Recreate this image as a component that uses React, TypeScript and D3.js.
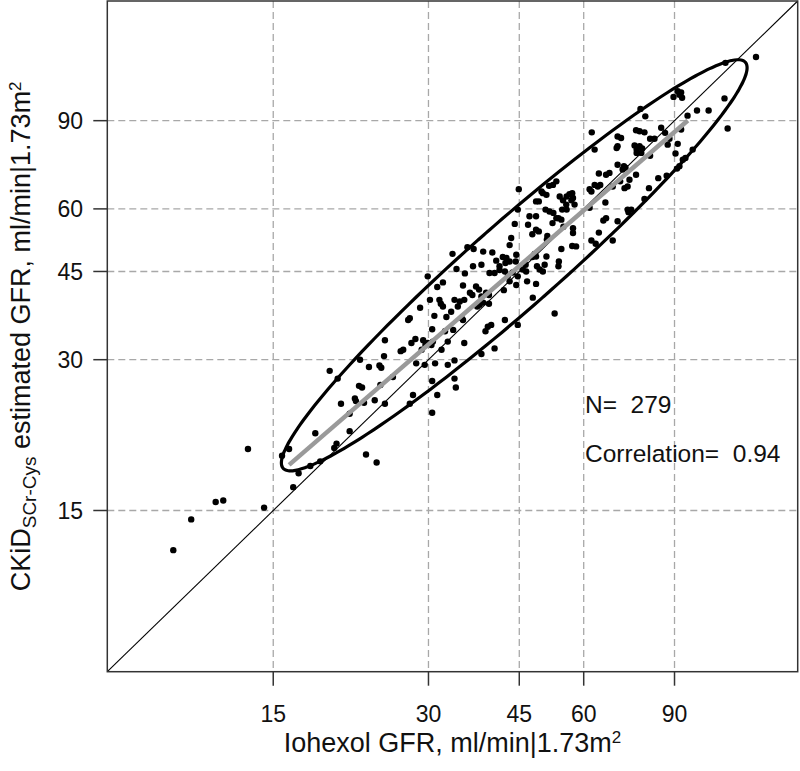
import React from "react";
import * as d3 from "d3";

// [Iohexol GFR, CKiD SCr-Cys estimated GFR] pairs, ml/min|1.73m2
const outlierPoints: [number, number][] = [
  [9.6, 12.5], [10.4, 14.4], [11.6, 15.6], [12.0, 15.7], [14.4, 15.2], [13.4, 19.9],
];

const lowerPoints: [number, number][] = [
  [16.1, 19.9], [15.6, 19.3], [17.7, 18.4], [16.8, 17.8], [16.4, 16.7], [18.5, 18.8],
  [18.1, 21.4], [19.9, 20.4], [19.7, 20.0], [21.1, 21.6], [21.1, 23.4], [20.3, 24.5],
  [19.3, 28.5], [20.0, 27.5], [21.6, 25.1], [21.7, 24.8], [22.5, 24.6], [23.6, 24.9],
  [24.7, 24.5], [22.0, 26.6], [22.3, 26.4], [24.2, 26.7], [25.6, 27.7], [22.1, 30.0],
  [23.0, 29.0], [24.1, 29.2], [24.3, 28.9], [24.7, 32.8], [24.6, 30.5], [26.5, 31.2],
  [22.7, 19.4], [23.8, 18.7],
];

const midPoints: [number, number][] = [
  [44.9, 65.7], [44.7, 59.8], [53.1, 68.1], [52.3, 67.0], [51.4, 66.7], [50.0, 64.5],
  [50.8, 64.0], [49.7, 65.0], [48.5, 62.1], [49.1, 62.1], [50.6, 59.8], [51.5, 59.3],
  [52.4, 58.9], [47.1, 58.0], [48.5, 58.0], [53.1, 57.5], [53.6, 57.5], [44.1, 56.0],
  [46.8, 55.8], [52.2, 56.2], [48.5, 54.5], [49.1, 54.1], [47.7, 53.4], [51.0, 53.0],
  [50.9, 52.1], [43.4, 52.5], [43.1, 50.8], [35.7, 50.3], [36.7, 49.9], [33.4, 48.8],
  [38.3, 49.3], [39.9, 49.1], [41.8, 48.1], [42.5, 47.9], [44.4, 48.6], [48.2, 48.8],
  [48.5, 48.2], [47.7, 48.1], [50.8, 48.2], [38.0, 46.4], [36.6, 46.1], [40.6, 47.3],
  [41.2, 46.1], [42.3, 46.8], [43.1, 47.1], [44.3, 47.1], [45.7, 45.4], [46.3, 46.4],
  [48.7, 46.1], [49.3, 45.4], [50.0, 45.0], [50.4, 46.4], [53.7, 47.1], [53.6, 46.1],
  [34.0, 45.5], [35.3, 44.6], [39.4, 44.7], [40.3, 44.7], [41.2, 45.3], [42.2, 45.0],
  [42.8, 44.1], [43.7, 44.8], [46.4, 45.0], [44.7, 44.0], [46.6, 43.0], [48.5, 42.5],
  [43.1, 43.0], [44.4, 42.3], [31.2, 41.9], [32.0, 42.8], [35.0, 42.2], [37.1, 42.0],
  [37.6, 41.4], [29.9, 44.0], [36.1, 40.8], [36.5, 40.4], [38.8, 40.8], [39.3, 40.4],
  [42.0, 41.3], [30.2, 39.5], [31.5, 39.5], [31.7, 38.8], [32.0, 38.3], [33.7, 39.5],
  [34.5, 39.2], [35.2, 39.5], [38.0, 40.1], [38.3, 39.0], [39.3, 38.8], [37.7, 38.6],
  [37.3, 38.3], [47.8, 39.9], [28.9, 38.1], [34.2, 38.3], [33.2, 37.4], [34.8, 36.3],
  [35.0, 36.0], [27.6, 36.3], [27.4, 36.0], [30.8, 36.7], [32.5, 36.5], [42.2, 36.0],
  [52.7, 37.1], [30.5, 34.5], [32.3, 34.2], [33.5, 34.4], [39.7, 35.2], [39.1, 34.9],
  [38.7, 34.2], [44.7, 35.2], [26.8, 31.4], [27.8, 32.4], [28.3, 33.0], [29.3, 32.8],
  [29.1, 31.4], [29.9, 32.4], [30.4, 32.1], [30.6, 32.6], [29.6, 32.1], [31.8, 31.4],
  [32.7, 32.6], [35.2, 32.4], [40.3, 31.6], [28.4, 29.5], [29.5, 29.3], [30.9, 29.5],
  [32.7, 29.3], [33.7, 29.9], [38.0, 30.8], [30.5, 27.2], [33.7, 27.5], [33.9, 26.4],
  [28.0, 25.5], [27.6, 24.5], [31.2, 25.5], [30.5, 23.5],
];

const upperPoints: [number, number][] = [
  [129.5, 120.6], [113.0, 117.4], [91.3, 103.0], [92.7, 102.5], [92.0, 101.4], [93.1, 100.0],
  [89.6, 100.4], [112.5, 99.7], [77.3, 95.0], [99.5, 94.3], [104.8, 94.3], [95.4, 92.1],
  [79.0, 91.8], [114.1, 86.8], [62.2, 85.3], [75.8, 86.1], [77.0, 85.7], [78.7, 85.3],
  [84.8, 87.1], [86.3, 85.1], [69.8, 83.7], [70.9, 83.1], [80.7, 82.8], [82.3, 82.8],
  [88.0, 82.8], [92.7, 86.4], [63.0, 78.8], [69.5, 79.4], [69.8, 80.0], [75.3, 80.3],
  [77.0, 80.0], [76.0, 78.8], [77.9, 79.2], [87.3, 80.6], [91.3, 80.9], [77.6, 77.6],
  [76.0, 77.6], [80.7, 76.6], [90.4, 77.4], [97.6, 78.8], [94.5, 75.8], [93.4, 75.2],
  [69.8, 73.5], [71.8, 73.0], [72.3, 72.5], [71.4, 71.9], [92.0, 73.0], [91.0, 72.2],
  [64.2, 70.6], [66.3, 70.2], [67.3, 70.8], [75.8, 70.2], [86.9, 69.9], [83.7, 69.1],
  [70.6, 68.1], [73.6, 68.6], [63.0, 67.0], [63.9, 66.5], [64.6, 67.0], [68.3, 66.5],
  [73.0, 66.5], [72.0, 66.0], [80.3, 66.0], [61.6, 65.7], [62.1, 65.0], [56.3, 64.2],
  [57.0, 64.5], [55.6, 63.5], [57.2, 63.1], [53.9, 63.5], [54.7, 62.4], [55.5, 61.2],
  [56.8, 62.4], [57.6, 61.2], [54.5, 59.8], [55.6, 59.8], [61.6, 60.3], [66.1, 61.8],
  [78.7, 62.8], [73.0, 59.8], [74.2, 59.8], [73.3, 59.1], [66.3, 57.5], [65.5, 56.9],
  [69.8, 56.7], [54.3, 57.1], [54.8, 55.3], [57.2, 54.9], [57.2, 53.7], [64.2, 53.8],
  [62.1, 51.9], [63.3, 51.1], [57.0, 50.6], [58.0, 50.5], [68.3, 51.9], [54.3, 49.9],
];

const tickValues = [15, 30, 45, 60, 90];
const axisDomain: [number, number] = [7.15, 156];
const fitIohexol = [16.1, 95.5];
const fitCkid = [18.5, 90.1];
// concentration ellipse: centre, end of major semi-axis, end of minor semi-axis (GFR units)
const ellipseCenter: [number, number] = [44.0, 46.3];
const ellipseMajorTip: [number, number] = [123.5, 117.7];
const ellipseMinorTip: [number, number] = [49.9, 39.9];
const nLabel = "N=  279";
const corrLabel = "Correlation=  0.94";
const xTitle = "Iohexol GFR, ml/min|1.73m";
const yTitleMain = "CKiD";
const yTitleSub = "SCr-Cys";
const yTitleRest = " estimated GFR, ml/min|1.73m";

const FONT = "'Liberation Sans', Arial, Helvetica, sans-serif";

export default function App() {
  const W = 800;
  const H = 771;
  const left = 107.3;
  const right = 797.7;
  const top = 1;
  const bottom = 671.7;

  const x = d3.scaleLog().domain(axisDomain).range([left, right]);
  const y = d3.scaleLog().domain(axisDomain).range([bottom, top]);

  const pts = [...outlierPoints, ...lowerPoints, ...midPoints, ...upperPoints];

  // ellipse in log space
  const cx = Math.log(ellipseCenter[0]);
  const cy = Math.log(ellipseCenter[1]);
  const Mx = Math.log(ellipseMajorTip[0]) - cx;
  const My = Math.log(ellipseMajorTip[1]) - cy;
  const mx = Math.log(ellipseMinorTip[0]) - cx;
  const my = Math.log(ellipseMinorTip[1]) - cy;
  const ell: [number, number][] = d3.range(0, 361, 2).map((deg) => {
    const t = (deg * Math.PI) / 180;
    return [
      Math.exp(cx + Mx * Math.cos(t) + mx * Math.sin(t)),
      Math.exp(cy + My * Math.cos(t) + my * Math.sin(t)),
    ];
  });
  const line = d3
    .line<[number, number]>()
    .x((d) => x(d[0]))
    .y((d) => y(d[1]));
  const ellPath = (line.curve(d3.curveCardinalClosed)(ell) || "");
  line.curve(d3.curveLinear);
  const fitPath = line(fitIohexol.map((v, i) => [v, fitCkid[i]] as [number, number])) || "";
  const diagPath = line([[axisDomain[0], axisDomain[0]], [axisDomain[1], axisDomain[1]]]) || "";

  const gridColor = "#a8a8a8";
  const axisColor = "#333";

  return (
    <svg
      width={W}
      height={H}
      style={{ position: "absolute", left: 0, top: 0, background: "#fff" }}
      fontFamily={FONT}
    >
      <rect x={0} y={0} width={W} height={H} fill="#fff" />
      {/* grid */}
      {tickValues.map((t) => (
        <line key={"gx" + t} x1={x(t)} x2={x(t)} y1={top} y2={bottom}
          stroke={gridColor} strokeWidth={1.3} strokeDasharray="7,4" />
      ))}
      {tickValues.map((t) => (
        <line key={"gy" + t} x1={left} x2={right} y1={y(t)} y2={y(t)}
          stroke={gridColor} strokeWidth={1.3} strokeDasharray="7,4" />
      ))}
      {/* points */}
      {pts.map((p, i) => (
        <circle key={i} cx={x(p[0])} cy={y(p[1])} r={3.2} fill="#000" />
      ))}
      {/* identity line */}
      <path d={diagPath} stroke="#000" strokeWidth={1.1} fill="none" />
      {/* ellipse */}
      <path d={ellPath} stroke="#000" strokeWidth={3.2} fill="none" />
      {/* fit line */}
      <path d={fitPath} stroke="#9a9a9a" strokeWidth={4.5} fill="none" />
      {/* box */}
      <rect x={left} y={top} width={right - left} height={bottom - top}
        fill="none" stroke={axisColor} strokeWidth={1.5} />
      {/* x ticks */}
      {tickValues.map((t) => (
        <g key={"tx" + t}>
          <line x1={x(t)} x2={x(t)} y1={bottom} y2={bottom + 14} stroke={axisColor} strokeWidth={1.5} />
          <text x={x(t)} y={722} textAnchor="middle" fontSize={23} fill="#111">{t}</text>
        </g>
      ))}
      {/* y ticks */}
      {tickValues.map((t) => (
        <g key={"ty" + t}>
          <line x1={left - 14} x2={left} y1={y(t)} y2={y(t)} stroke={axisColor} strokeWidth={1.5} />
          <text x={83} y={y(t)} dy="0.36em" textAnchor="end" fontSize={23} fill="#111">{t}</text>
        </g>
      ))}
      {/* x title */}
      <text x={(left + right) / 2} y={752} textAnchor="middle" fontSize={27} fill="#111">
        {xTitle}
        <tspan fontSize={17} dy={-9}>2</tspan>
      </text>
      {/* y title */}
      <text transform={`translate(30,${(top + bottom) / 2}) rotate(-90)`} textAnchor="middle" fontSize={27} fill="#111">
        {yTitleMain}
        <tspan fontSize={19} dy={6}>{yTitleSub}</tspan>
        <tspan dy={-6}>{yTitleRest}</tspan>
        <tspan fontSize={17} dy={-9}>2</tspan>
      </text>
      {/* annotations */}
      <text x={585} y={413} fontSize={24.5} fill="#111" style={{ whiteSpace: "pre" }}>{nLabel}</text>
      <text x={585} y={462} fontSize={24.5} fill="#111" style={{ whiteSpace: "pre" }}>{corrLabel}</text>
    </svg>
  );
}
